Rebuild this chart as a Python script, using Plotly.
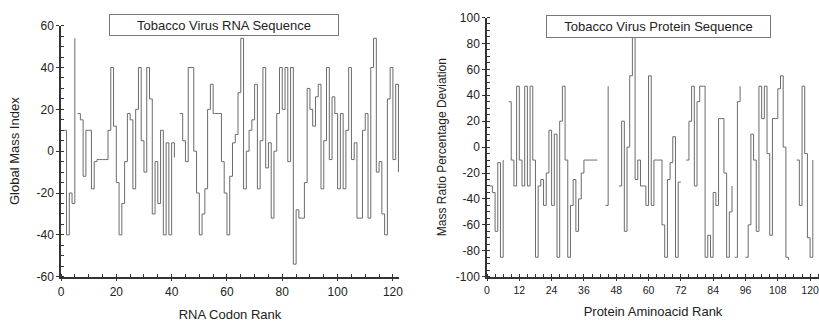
import plotly.graph_objects as go

# ---- RNA panel data (rank, Global Mass Index); None marks a break in the trace
rna_rank = [1, 2, 3, 4, 5, 5.5, 6, 7, 8, 9, 10, 11, 12, 13, 14, 15, 16, 17, 18, 19, 20,
            21, 22, 23, 24, 25, 26, 27, 28, 29, 30, 31, 32, 33, 34, 35, 36, 37, 38, 39, 40,
            41, 42, 43, 44, 45, 46, 47, 48, 49, 50, 51, 52, 53, 54, 55, 56, 57, 58, 59, 60,
            61, 62, 63, 64, 65, 66, 67, 68, 69, 70, 71, 72, 73, 74, 75, 76, 77, 78, 79, 80,
            81, 82, 83, 84, 85, 86, 87, 88, 89, 90, 91, 92, 93, 94, 95, 96, 97, 98, 99, 100,
            101, 102, 103, 104, 105, 106, 107, 108, 109, 110, 111, 112, 113, 114, 115, 116,
            117, 118, 119, 120, 121, 122]
rna_mass = [10, -40, -20, -25, 54, None, 18, 15, -12, 10, 10, -18, -5, -4, -4, -4, -4, 10, 40, 12, -15,
            -40, -25, -5, 18, 15, -18, 20, 40, 5, -10, 40, 25, -30, -5, -25, 10, -40, 4, -40, 4,
            -3, None, 18, 5, -5, 40, 40, 0, -20, -40, -30, -18, 20, 32, 18, 18, 18, -5, -20, -40,
            -12, 4, 8, 28, 54, -18, 0, 10, 15, 32, -18, 5, 40, -8, 4, -32, 0, 18, 40, 20,
            40, -5, 40, -54, -28, -32, -32, -15, 30, 20, 12, 26, 32, -18, 5, 40, -4, 26, 18, -18,
            18, -18, 10, 40, -4, 4, -32, -32, 10, 18, -32, 40, 54, -10, -5, -30,
            -40, 25, 40, -4, 32, -10]

# ---- Protein panel data (rank, Mass Ratio Percentage Deviation)
prot_rank = [1, 2, 3, 4, 5, 6, 7, 8, 9, 10, 11, 12, 13, 14, 15, 16, 17, 18, 19, 20,
             21, 22, 23, 24, 25, 26, 27, 28, 29, 30, 31, 32, 33, 34, 35, 36, 37, 38, 39, 40,
             41, 42.5, 44, 45, 47, 49, 50, 51, 52, 53, 54, 55, 56, 57, 58, 59, 60,
             61, 62, 63, 64, 65, 66, 67, 68, 69, 70, 71, 72, 73, 74, 75, 76, 77, 78, 79, 80,
             81, 82, 83, 84, 85, 86, 87, 88, 89, 90, 91, 91.5, 92, 93, 94, 95, 96, 97, 98, 99, 100,
             101, 102, 103, 104, 105, 106, 107, 108, 109, 110, 111, 112, 113.5, 115, 116,
             117, 118, 119, 120, 121]
prot_dev = [-30, -35, -65, -12, -85, -10, None, 35, -10, -30, 47, -10, -30, 47, -30, 47, -10, -85, -30, -25,
            -45, -20, 13, -45, 10, -85, 20, 47, -10, -85, -45, -25, -65, -40, -20, -10, -10, -10, -10, -10,
            -10, None, -45, 47, None, -30, 20, -65, 0, 55, 85, -25, -10, -30, -30, -45, 55,
            -45, -10, -10, -10, -60, -85, -25, -12, 8, -85, -27, -27, None, -10, 20, 47, -30, 35, 47, 47,
            -85, -68, -85, -35, -45, 22, 22, -20, -85, -50, -30, None, -85, 35, 47, None, -85, -60, 10, -10, -65,
            47, 22, 47, -5, -68, 22, 22, 45, 55, 0, -85, -87, None, -10, -45,
            47, -5, -70, -85, -10]

rna_xticks = [0, 20, 40, 60, 80, 100, 120]
rna_yticks = [-60, -40, -20, 0, 20, 40, 60]
prot_xticks = [0, 12, 24, 36, 48, 60, 72, 84, 96, 108, 120]
prot_yticks = [-100, -80, -60, -40, -20, 0, 20, 40, 60, 80, 100]

W, H = 819, 322
LINE = "#6b6b6b"
AX = "#333333"
FONT = "Liberation Sans, Arial, sans-serif"

fig = go.Figure()
fig.add_trace(go.Scatter(x=rna_rank, y=rna_mass, mode="lines", line=dict(color=LINE, width=1, shape="hv"),
                         connectgaps=False, xaxis="x", yaxis="y", showlegend=False, hoverinfo="skip"))
fig.add_trace(go.Scatter(x=prot_rank, y=prot_dev, mode="lines", line=dict(color=LINE, width=1, shape="hv"),
                         connectgaps=False, xaxis="x2", yaxis="y2", showlegend=False, hoverinfo="skip"))

def px_x(p):
    return p / W

def px_y(p):
    return 1 - p / H

def lbl(vals):
    return [str(v) for v in vals]  # plain hyphen-minus, as in the reference

common = dict(showgrid=False, zeroline=False, showline=True, linecolor=AX, linewidth=1.5,
              automargin=False,
              ticks="outside", ticklen=3, tickwidth=1.2, tickcolor=AX, ticklabeloverflow="allow",
              tickfont=dict(family=FONT, size=12, color="#222"))

fig.update_layout(
    template="none",
    width=W, height=H, margin=dict(l=0, r=0, t=0, b=0, pad=0),
    paper_bgcolor="white", plot_bgcolor="white",
    font=dict(family=FONT, color="#222"),
    xaxis=dict(domain=[px_x(61), px_x(399)], range=[0, 122.2], anchor="y",
               tickmode="array", tickvals=rna_xticks, ticktext=lbl(rna_xticks),
               minor=dict(dtick=5, ticks="inside", ticklen=3, tickcolor=AX),
               title=dict(text="RNA Codon Rank", font=dict(size=13, family=FONT), standoff=12), **common),
    yaxis=dict(domain=[px_y(276.7), px_y(25.7)], range=[-60, 60], anchor="x",
               tickmode="array", tickvals=rna_yticks, ticktext=lbl(rna_yticks),
               minor=dict(dtick=5, ticks="inside", ticklen=3, tickcolor=AX),
               title=dict(text="Global Mass Index", font=dict(size=13, family=FONT), standoff=14), **common),
    xaxis2=dict(domain=[px_x(487), 1.0], range=[0, 123.3], anchor="y2",
                tickmode="array", tickvals=prot_xticks, ticktext=lbl(prot_xticks),
                minor=dict(dtick=3, ticks="inside", ticklen=3, tickcolor=AX),
                title=dict(text="Protein Aminoacid Rank", font=dict(size=13, family=FONT), standoff=12),
                **{**common, "tickfont": dict(family=FONT, size=10.5, color="#222")}),
    yaxis2=dict(domain=[px_y(276.7), px_y(17.5)], range=[-100, 100], anchor="x2",
                tickmode="array", tickvals=prot_yticks, ticktext=lbl(prot_yticks),
                minor=dict(dtick=5, ticks="inside", ticklen=3, tickcolor=AX),
                title=dict(text="Mass Ratio Percentage Deviation", font=dict(size=12, family=FONT), standoff=7), **common),
)

fig.add_annotation(x=(109 + 339) / 2 / W, y=px_y(24.5), xref="paper", yref="paper",
                   xanchor="center", yanchor="middle",
                   text="Tobacco Virus RNA Sequence", showarrow=False,
                   font=dict(family=FONT, size=13, color="#222"),
                   bordercolor="#777", borderwidth=1, borderpad=2, bgcolor="white",
                   width=224, height=16)
fig.add_annotation(x=(546 + 771) / 2 / W, y=px_y(26), xref="paper", yref="paper",
                   xanchor="center", yanchor="middle",
                   text="Tobacco Virus Protein Sequence", showarrow=False,
                   font=dict(family=FONT, size=13, color="#222"),
                   bordercolor="#777", borderwidth=1, borderpad=2, bgcolor="white",
                   width=219, height=17)

# remove the browser's default 8px page margin so the 819x322 figure fills the window exactly
fig.write_html("out.html", config={"displayModeBar": False},
               post_script="document.body.style.margin='0';document.body.style.overflow='hidden';")
